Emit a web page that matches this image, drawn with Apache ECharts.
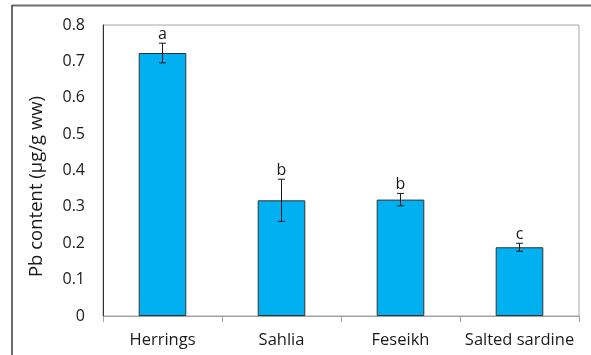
<!DOCTYPE html>
<html>
<head>
<meta charset="utf-8">
<script src="https://cdn.jsdelivr.net/npm/echarts@6/dist/echarts.min.js"></script>
<style>
  html, body { margin: 0; padding: 0; background: #fff; }
  #chart { width: 591px; height: 355px; }
</style>
</head>
<body>
<div id="chart"></div>
<script>
// Lead content in fish products, mean ± SD with significance letters
const categories = ['Herrings', 'Sahlia', 'Feseikh', 'Salted sardine'];
const means = [0.723, 0.318, 0.320, 0.189];
const errors = [0.027, 0.058, 0.017, 0.011];
const letters = ['a', 'b', 'b', 'c'];
const yTicks = { min: 0, max: 0.8, interval: 0.1 };

const FONT = 'Open Sans';
const TEXT = '#1a1a1a';

const chart = echarts.init(document.getElementById('chart'), null, { renderer: 'canvas' });

const errorData = means.map((m, i) => [i, m - errors[i], m + errors[i], letters[i]]);

chart.setOption({
  animation: false,
  backgroundColor: '#fff',
  textStyle: { fontFamily: FONT },
  grid: {
    left: 103, top: 25, right: 12, bottom: 39,
    show: true, borderColor: '#a6a6a6', borderWidth: 1
  },
  graphic: [
    { type: 'line', silent: true, shape: { x1: 12, y1: 5.5, x2: 591, y2: 5.5 },
      style: { stroke: '#6e6e6e', lineWidth: 2 } },
    { type: 'line', silent: true, shape: { x1: 12, y1: 5, x2: 12, y2: 355 },
      style: { stroke: '#3a3a3a', lineWidth: 1.5 } }
  ],
  xAxis: {
    type: 'category',
    data: categories,
    axisLine: { lineStyle: { color: '#a0a0a0', width: 1 } },
    axisTick: { show: true, alignWithLabel: false, length: 6, lineStyle: { color: '#a0a0a0' } },
    axisLabel: { color: TEXT, fontSize: 16.5, margin: 16, interval: 0, fontFamily: FONT },
    splitLine: { show: false }
  },
  yAxis: {
    type: 'value',
    min: yTicks.min, max: yTicks.max, interval: yTicks.interval,
    name: 'Pb content (µg/g ww)',
    nameLocation: 'middle',
    nameGap: 57,
    nameRotate: 90,
    nameTextStyle: { color: TEXT, fontSize: 18.5, fontFamily: FONT, padding: [0, 32, 0, 0] },
    axisLine: { show: true, lineStyle: { color: '#333', width: 1 } },
    axisTick: { show: false },
    axisLabel: { color: TEXT, fontSize: 16, margin: 18, fontFamily: FONT },
    splitLine: { show: false }
  },
  series: [
    {
      type: 'bar',
      data: means,
      barWidth: '40%',
      itemStyle: { color: '#00B0F0', borderColor: '#333', borderWidth: 1 }
    },
    {
      type: 'custom',
      data: errorData,
      z: 10,
      renderItem: function (params, api) {
        const x = api.value(0);
        const lo = api.coord([x, api.value(1)]);
        const hi = api.coord([x, api.value(2)]);
        const cap = 3.5;
        const st = { stroke: '#1a1a1a', lineWidth: 1 };
        return {
          type: 'group',
          children: [
            { type: 'line', shape: { x1: hi[0], y1: hi[1], x2: lo[0], y2: lo[1] }, style: st },
            { type: 'line', shape: { x1: hi[0] - cap, y1: hi[1], x2: hi[0] + cap, y2: hi[1] }, style: st },
            { type: 'line', shape: { x1: lo[0] - cap, y1: lo[1], x2: lo[0] + cap, y2: lo[1] }, style: st },
            { type: 'text', style: {
                text: letters[params.dataIndex], x: hi[0], y: hi[1] - 9,
                align: 'center', verticalAlign: 'middle',
                fill: TEXT, fontSize: 16, fontFamily: FONT } }
          ]
        };
      }
    }
  ]
});
</script>
</body>
</html>
